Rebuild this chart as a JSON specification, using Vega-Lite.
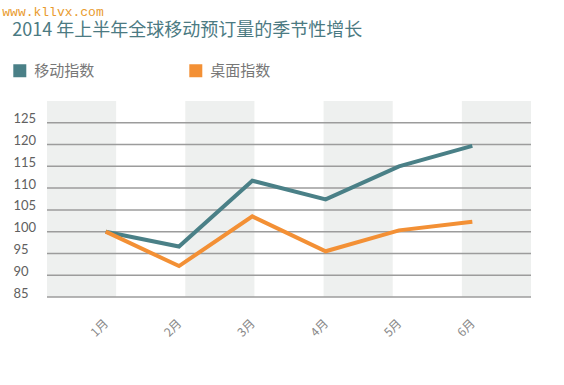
{
  "$schema": "https://vega.github.io/schema/vega-lite/v6.json",
  "width": 484,
  "height": 196,
  "padding": {"left": 2, "top": 6, "right": 0, "bottom": 0},
  "background": "white",
  "title": {
    "text": "www.kllvx.com",
    "anchor": "start",
    "dx": -10,
    "font": "Liberation Mono",
    "fontSize": 13,
    "fontWeight": "normal",
    "color": "#e99b2e",
    "offset": 3
  },
  "datasets": {
    "bands": [
      {"start": 0, "end": 1},
      {"start": 2, "end": 3},
      {"start": 4, "end": 5},
      {"start": 6, "end": 7}
    ],
    "grid": [
      {"level": 85}, {"level": 90}, {"level": 95}, {"level": 100}, {"level": 105},
      {"level": 110}, {"level": 115}, {"level": 120}, {"level": 125}
    ],
    "series": [
      {"month": "1月", "series": "移动指数", "value": 100},
      {"month": "2月", "series": "移动指数", "value": 96.6},
      {"month": "3月", "series": "移动指数", "value": 111.7},
      {"month": "4月", "series": "移动指数", "value": 107.4},
      {"month": "5月", "series": "移动指数", "value": 115},
      {"month": "6月", "series": "移动指数", "value": 119.7},
      {"month": "1月", "series": "桌面指数", "value": 100},
      {"month": "2月", "series": "桌面指数", "value": 92.1},
      {"month": "3月", "series": "桌面指数", "value": 103.5},
      {"month": "4月", "series": "桌面指数", "value": 95.5},
      {"month": "5月", "series": "桌面指数", "value": 100.3},
      {"month": "6月", "series": "桌面指数", "value": 102.3}
    ]
  },
  "layer": [
    {
      "data": {"name": "bands"},
      "mark": {"type": "rect", "color": "#eef0ef"},
      "encoding": {
        "x": {"field": "start", "type": "quantitative", "scale": {"domain": [0, 7], "nice": false, "zero": false}, "axis": null},
        "x2": {"field": "end"}
      }
    },
    {
      "data": {"name": "grid"},
      "mark": {"type": "rule", "color": "#9c9c9c", "strokeWidth": 1.5},
      "encoding": {
        "y": {
          "field": "level",
          "type": "quantitative",
          "scale": {"domain": [85, 130], "nice": false, "zero": false},
          "axis": {
            "title": null,
            "grid": false,
            "domain": false,
            "ticks": false,
            "tickSize": 0,
            "values": [85, 90, 95, 100, 105, 110, 115, 120, 125],
            "labelOverlap": false,
            "labelAlign": "left",
            "labelBaseline": "middle",
            "labelPadding": 34,
            "labelOffset": -4,
            "labelFont": "Lato",
            "labelFontSize": 13,
            "labelColor": "#606060"
          }
        }
      }
    },
    {
      "data": {"name": "series"},
      "mark": {"type": "line", "strokeWidth": 4, "strokeCap": "butt"},
      "encoding": {
        "x": {
          "field": "month",
          "type": "ordinal",
          "sort": ["1月", "2月", "3月", "4月", "5月", "6月"],
          "scale": {"type": "point", "padding": 0.8},
          "axis": {
            "title": null,
            "domain": false,
            "ticks": false,
            "tickSize": 0,
            "grid": false,
            "labelAngle": -45,
            "labelAlign": "right",
            "labelBaseline": "middle",
            "labelPadding": 24,
            "labelFont": "Noto Sans CJK SC",
            "labelFontSize": 12,
            "labelColor": "#888888"
          }
        },
        "y": {
          "field": "value",
          "type": "quantitative",
          "axis": {
            "title": null,
            "grid": false,
            "domain": false,
            "ticks": false,
            "tickSize": 0,
            "values": [85, 90, 95, 100, 105, 110, 115, 120, 125],
            "labelOverlap": false,
            "labelAlign": "left",
            "labelBaseline": "middle",
            "labelPadding": 34,
            "labelOffset": -4,
            "labelFont": "Lato",
            "labelFontSize": 13,
            "labelColor": "#606060"
          }
        },
        "color": {
          "field": "series",
          "type": "nominal",
          "scale": {"domain": ["移动指数", "桌面指数"], "range": ["#4a8087", "#f39035"]},
          "legend": {
            "title": "2014 年上半年全球移动预订量的季节性增长",
            "titleOrient": "top",
            "titleAnchor": "start",
            "titleFont": "Noto Sans CJK SC",
            "titleFontSize": 18,
            "titleFontWeight": "normal",
            "titleColor": "#4b7a82",
            "titleLimit": 500,
            "titlePadding": 23,
            "orient": "none",
            "direction": "horizontal",
            "legendX": -34.7,
            "legendY": -79,
            "symbolType": "square",
            "symbolSize": 169,
            "symbolStrokeWidth": 0,
            "labelFont": "Noto Sans CJK SC",
            "labelFontSize": 15,
            "labelColor": "#777777",
            "labelOffset": 7,
            "columnPadding": 93,
            "encode": {
              "symbols": {"update": {"fill": {"scale": "color", "field": "value"}, "opacity": {"value": 1}}}
            }
          }
        }
      }
    }
  ],
  "resolve": {"scale": {"x": "independent"}},
  "config": {"view": {"stroke": null}, "axisY": {"labelOverlap": false}}
}
